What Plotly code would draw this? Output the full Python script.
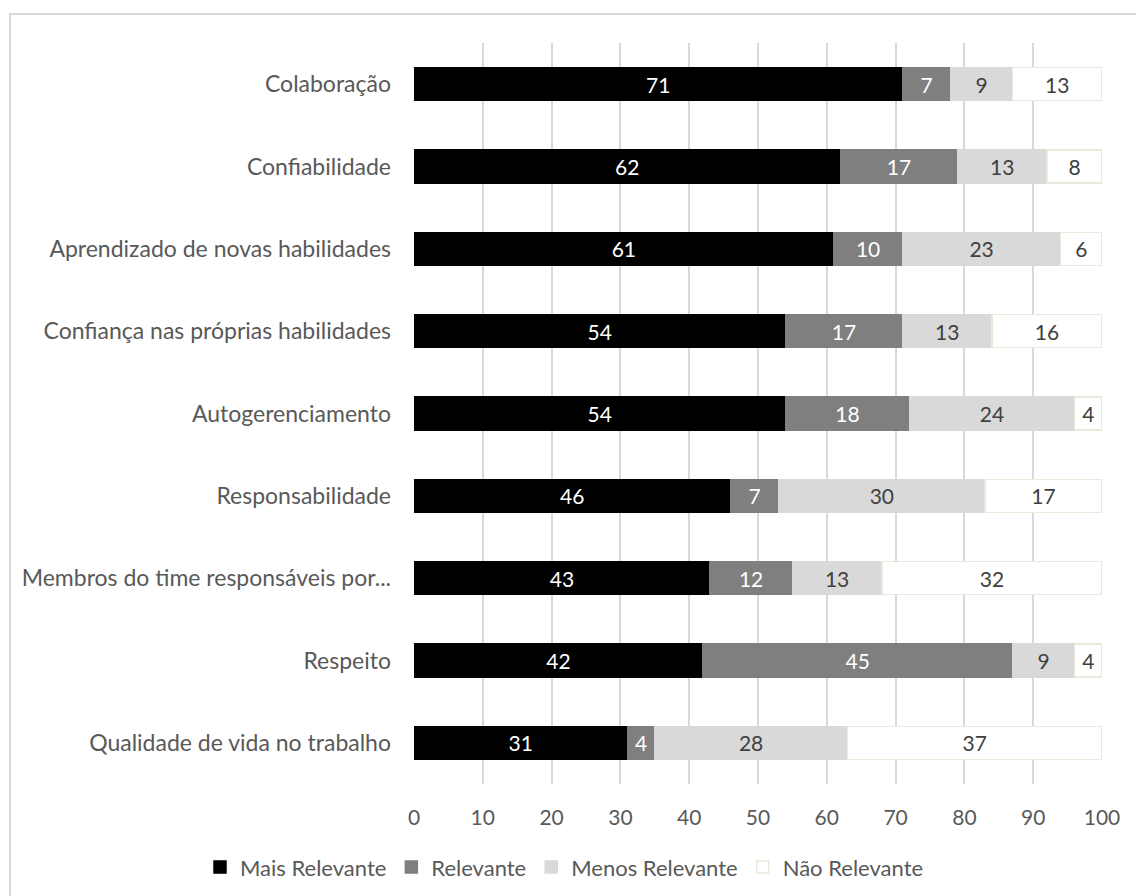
import plotly.graph_objects as go

categories = [
    "Colaboração",
    "Confiabilidade",
    "Aprendizado de novas habilidades",
    "Confiança nas próprias habilidades",
    "Autogerenciamento",
    "Responsabilidade",
    "Membros do time responsáveis por...",
    "Respeito",
    "Qualidade de vida no trabalho",
]
mais_relevante = [71, 62, 61, 54, 54, 46, 43, 42, 31]
relevante = [7, 17, 10, 17, 18, 7, 12, 45, 4]
menos_relevante = [9, 13, 23, 13, 24, 30, 13, 9, 28]
nao_relevante = [13, 8, 6, 16, 4, 17, 32, 4, 37]
x_ticks = [0, 10, 20, 30, 40, 50, 60, 70, 80, 90, 100]

FONT = "Lato"
series = [
    ("Mais Relevante", mais_relevante, "#000000", "#000000", "#ffffff"),
    ("Relevante", relevante, "#7f7f7f", "#7f7f7f", "#ffffff"),
    ("Menos Relevante", menos_relevante, "#d9d9d9", "#d9d9d9", "#404040"),
    ("Não Relevante", nao_relevante, "#ffffff", "#ece9dc", "#404040"),
]

fig = go.Figure()
for name, vals, fill, line, tcol in series:
    fig.add_trace(go.Bar(
        name=name, y=categories, x=vals, orientation="h",
        marker=dict(color=fill, line=dict(color=line, width=1.5)),
        text=vals, textposition="inside", insidetextanchor="middle",
        textfont=dict(family=FONT, size=21, color=tcol),
        width=0.4, cliponaxis=False,
    ))

fig.update_layout(
    barmode="stack",
    width=1136, height=896,
    margin=dict(l=414, r=34, t=43, b=112, autoexpand=False),
    paper_bgcolor="white", plot_bgcolor="white",
    font=dict(family=FONT, size=20, color="#595959"),
    showlegend=True,
    legend=dict(orientation="h", x=(200 - 414) / 688, xanchor="left",
                y=-0.084, yanchor="top",
                font=dict(family=FONT, size=22, color="#595959"),
                traceorder="normal", itemwidth=30),
    xaxis=dict(range=[0, 100], tickvals=x_ticks, showgrid=True, gridcolor="#d9d9d9",
               gridwidth=2, zeroline=False, showline=False, ticks="",
               tickfont=dict(family=FONT, size=21, color="#595959"),
               ticklabelstandoff=19, fixedrange=True),
    yaxis=dict(categoryorder="array", categoryarray=categories[::-1],
               showgrid=False, zeroline=False, ticks="", ticklabelstandoff=22,
               tickfont=dict(family=FONT, size=23, color="#595959")),
    shapes=[dict(type="rect", xref="paper", yref="paper",
                 x0=(10 - 414) / 688, x1=1.3,
                 y0=-0.4, y1=1 + (43 - 14) / 741,
                 line=dict(color="#d9d9d9", width=2), layer="below")],
)
fig.write_html("out.html")
